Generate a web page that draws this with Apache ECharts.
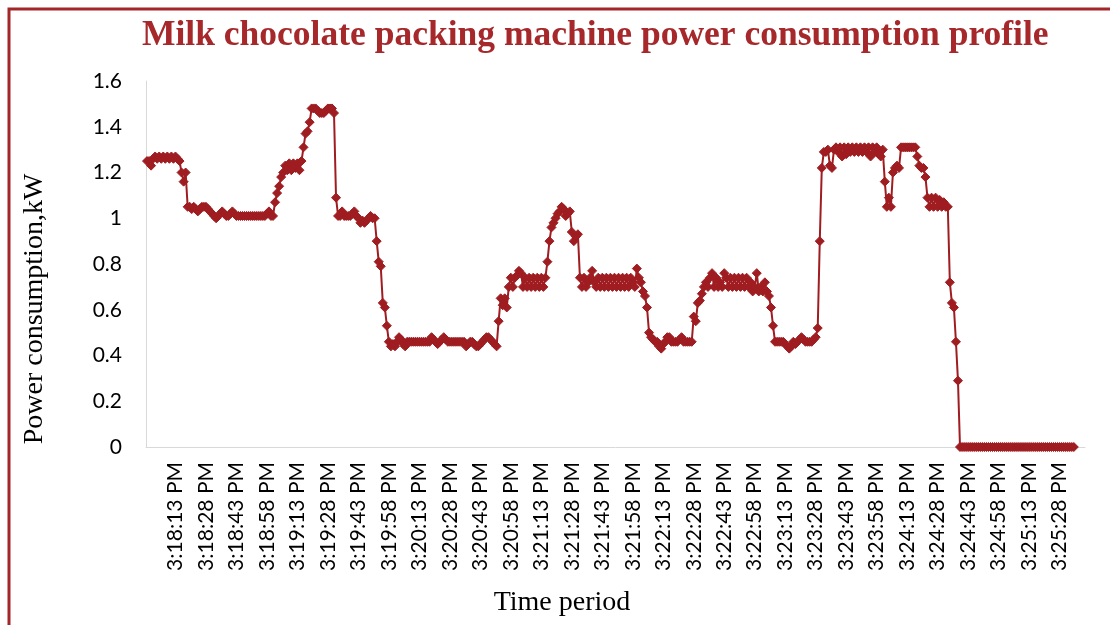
<!DOCTYPE html>
<html>
<head>
<meta charset="utf-8">
<style>
  html, body { margin: 0; padding: 0; background: #ffffff; }
  #chart { width: 1110px; height: 625px; }
</style>
<script src="https://cdn.jsdelivr.net/npm/echarts@6/dist/echarts.min.js"></script>
</head>
<body>
<div id="chart"></div>
<script>
// One reading per second, starting at 3:17:59 PM
const startSeconds = 15 * 3600 + 17 * 60 + 59;
const categoryCount = 462;
const firstLabelIndex = 14;   // 3:18:13 PM
const labelStep = 15;         // one tick label every 15 s

const yTicks = { min: 0, max: 1.6, step: 0.2 };

// Power draw in kW, one value per second
const powerKW = [
  1.25, 1.25, 1.23, 1.26, 1.27, 1.26, 1.27, 1.26, 1.27, 1.26,
  1.27, 1.26, 1.27, 1.26, 1.27, 1.26, 1.25, 1.20, 1.16, 1.20,
  1.05, 1.05, 1.04, 1.05, 1.04, 1.03, 1.04, 1.05, 1.05, 1.05,
  1.04, 1.03, 1.02, 1.01, 1.00, 1.01, 1.02, 1.03, 1.02, 1.01,
  1.01, 1.02, 1.03, 1.02, 1.01, 1.01, 1.01, 1.01, 1.01, 1.01,
  1.01, 1.01, 1.01, 1.01, 1.01, 1.01, 1.01, 1.01, 1.01, 1.02,
  1.03, 1.01, 1.01, 1.07, 1.11, 1.14, 1.18, 1.20, 1.23, 1.21,
  1.24, 1.21, 1.24, 1.22, 1.24, 1.21, 1.25, 1.31, 1.37, 1.38,
  1.42, 1.48, 1.48, 1.48, 1.47, 1.46, 1.46, 1.46, 1.47, 1.48,
  1.48, 1.48, 1.46, 1.09, 1.01, 1.01, 1.03, 1.01, 1.01, 1.01,
  1.01, 1.02, 1.03, 1.01, 1.00, 0.98, 0.99, 0.98, 0.99, 1.00,
  1.01, 1.00, 1.00, 0.90, 0.81, 0.79, 0.63, 0.61, 0.53, 0.46,
  0.44, 0.45, 0.44, 0.46, 0.48, 0.47, 0.45, 0.44, 0.46, 0.46,
  0.46, 0.46, 0.46, 0.46, 0.46, 0.46, 0.46, 0.46, 0.46, 0.46,
  0.48, 0.47, 0.46, 0.45, 0.46, 0.47, 0.48, 0.47, 0.46, 0.46,
  0.46, 0.46, 0.46, 0.46, 0.46, 0.46, 0.46, 0.44, 0.45, 0.46,
  0.46, 0.45, 0.44, 0.44, 0.45, 0.46, 0.47, 0.48, 0.48, 0.47,
  0.46, 0.45, 0.44, 0.55, 0.65, 0.62, 0.65, 0.61, 0.70, 0.74,
  0.70, 0.74, 0.75, 0.77, 0.76, 0.70, 0.74, 0.70, 0.74, 0.70,
  0.74, 0.70, 0.74, 0.70, 0.74, 0.70, 0.74, 0.81, 0.90, 0.96,
  0.98, 1.00, 1.02, 1.03, 1.05, 1.04, 1.01, 1.02, 1.03, 0.94,
  0.90, 0.92, 0.93, 0.74, 0.70, 0.74, 0.70, 0.72, 0.74, 0.77,
  0.72, 0.70, 0.74, 0.70, 0.74, 0.70, 0.74, 0.70, 0.74, 0.70,
  0.74, 0.70, 0.74, 0.70, 0.74, 0.70, 0.74, 0.70, 0.74, 0.72,
  0.70, 0.78, 0.74, 0.72, 0.68, 0.66, 0.61, 0.50, 0.48, 0.47,
  0.46, 0.46, 0.44, 0.43, 0.45, 0.46, 0.48, 0.48, 0.46, 0.46,
  0.46, 0.46, 0.47, 0.48, 0.46, 0.46, 0.46, 0.46, 0.46, 0.57,
  0.55, 0.63, 0.64, 0.67, 0.70, 0.72, 0.70, 0.74, 0.76, 0.70,
  0.74, 0.70, 0.72, 0.70, 0.76, 0.74, 0.70, 0.74, 0.70, 0.74,
  0.70, 0.74, 0.70, 0.74, 0.70, 0.74, 0.70, 0.72, 0.68, 0.70,
  0.76, 0.68, 0.70, 0.68, 0.72, 0.68, 0.66, 0.61, 0.53, 0.46,
  0.46, 0.46, 0.46, 0.46, 0.45, 0.44, 0.43, 0.44, 0.46, 0.45,
  0.46, 0.47, 0.48, 0.47, 0.46, 0.46, 0.46, 0.46, 0.47, 0.48,
  0.52, 0.90, 1.22, 1.29, 1.29, 1.30, 1.23, 1.22, 1.30, 1.31,
  1.29, 1.31, 1.27, 1.31, 1.28, 1.31, 1.29, 1.31, 1.29, 1.31,
  1.29, 1.31, 1.29, 1.31, 1.29, 1.31, 1.27, 1.31, 1.29, 1.31,
  1.28, 1.27, 1.30, 1.16, 1.05, 1.09, 1.05, 1.20, 1.22, 1.23,
  1.22, 1.31, 1.31, 1.31, 1.31, 1.31, 1.31, 1.31, 1.31, 1.27,
  1.23, 1.22, 1.22, 1.18, 1.09, 1.05, 1.09, 1.05, 1.09, 1.05,
  1.08, 1.05, 1.07, 1.05, 1.05, 0.72, 0.63, 0.61, 0.46, 0.29,
  0, 0, 0, 0, 0, 0, 0, 0, 0, 0,
  0, 0, 0, 0, 0, 0, 0, 0, 0, 0,
  0, 0, 0, 0, 0, 0, 0, 0, 0, 0,
  0, 0, 0, 0, 0, 0, 0, 0, 0, 0,
  0, 0, 0, 0, 0, 0, 0, 0, 0, 0,
  0, 0, 0, 0, 0, 0, 0
];

function clockLabel(totalSeconds) {
  const h24 = Math.floor(totalSeconds / 3600);
  const m = Math.floor((totalSeconds % 3600) / 60);
  const s = totalSeconds % 60;
  const h12 = h24 % 12 === 0 ? 12 : h24 % 12;
  const pad = n => (n < 10 ? '0' : '') + n;
  return h12 + ':' + pad(m) + ':' + pad(s) + ' ' + (h24 >= 12 ? 'PM' : 'AM');
}

const timeCategories = [];
for (let i = 0; i < categoryCount; i++) {
  timeCategories.push(clockLabel(startSeconds + i));
}

const darkRed = '#9f1d21';
const titleRed = '#a6282b';
const axisGrey = '#d9d9d9';
const sansFont = 'Lato, "Liberation Sans", sans-serif';
const serifFont = '"Liberation Serif", "DejaVu Serif", serif';

const chart = echarts.init(document.getElementById('chart'), null, { renderer: 'canvas' });

chart.setOption({
  animation: false,
  backgroundColor: '#ffffff',
  title: {
    text: 'Milk chocolate packing machine power consumption profile',
    left: 137,
    top: 13,
    textStyle: {
      fontFamily: serifFont,
      fontWeight: 'bold',
      fontSize: 35.5,
      color: titleRed
    }
  },
  grid: {
    left: 146,
    right: 25,
    top: 81,
    bottom: 178
  },
  xAxis: {
    type: 'category',
    data: timeCategories,
    boundaryGap: true,
    axisLine: { show: true, lineStyle: { color: axisGrey, width: 1 } },
    axisTick: { show: false },
    splitLine: { show: false },
    axisLabel: {
      rotate: 90,
      margin: 15,
      interval: (index) => index >= firstLabelIndex && (index - firstLabelIndex) % labelStep === 0,
      fontFamily: sansFont,
      fontSize: 21,
      color: '#000000'
    }
  },
  yAxis: {
    type: 'value',
    min: yTicks.min,
    max: yTicks.max,
    interval: yTicks.step,
    axisLine: { show: true, lineStyle: { color: axisGrey, width: 1 } },
    axisTick: { show: false },
    splitLine: { show: false },
    axisLabel: {
      margin: 24,
      fontFamily: sansFont,
      fontSize: 21,
      color: '#000000'
    }
  },
  graphic: [
    {
      type: 'rect',
      z: -10,
      silent: true,
      shape: { x: 9, y: 9, width: 1300, height: 800 },
      style: { fill: 'none', stroke: '#a3262a', lineWidth: 3 }
    },
    {
      type: 'text',
      silent: true,
      x: 35,
      y: 309,
      rotation: Math.PI / 2,
      style: {
        text: 'Power consumption,kW',
        font: '28px "Liberation Serif", serif',
        fill: '#000000',
        textAlign: 'center',
        textVerticalAlign: 'middle'
      }
    },
    {
      type: 'text',
      silent: true,
      x: 562,
      y: 603,
      style: {
        text: 'Time period',
        font: '28px "Liberation Serif", serif',
        fill: '#000000',
        textAlign: 'center',
        textVerticalAlign: 'middle'
      }
    }
  ],
  series: [
    {
      name: 'Power consumption',
      type: 'line',
      data: powerKW,
      symbol: 'diamond',
      symbolSize: 9,
      showAllSymbol: true,
      lineStyle: { color: darkRed, width: 2 },
      itemStyle: { color: darkRed, borderColor: darkRed, borderWidth: 1 }
    }
  ]
});
</script>
</body>
</html>
